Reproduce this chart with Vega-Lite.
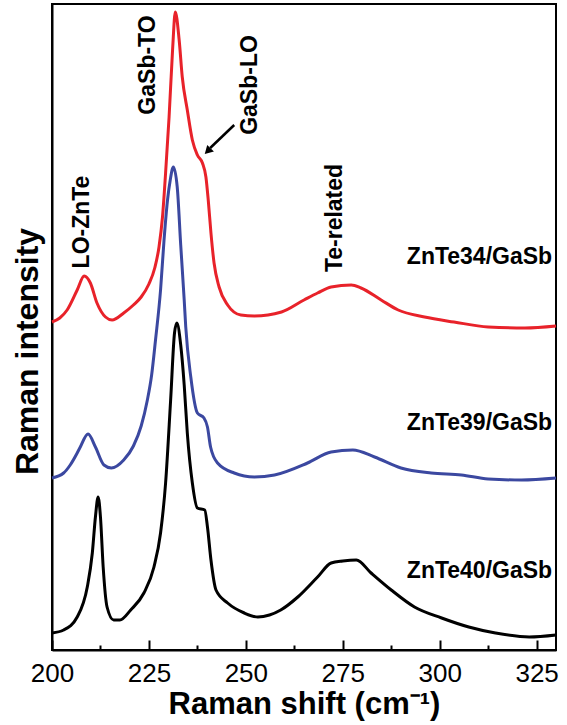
{
  "$schema": "https://vega.github.io/schema/vega-lite/v6.json",
  "width": 504,
  "height": 646,
  "autosize": {"type": "none"},
  "padding": {"left": 52, "top": 4, "right": 11, "bottom": 75},
  "config": {
    "view": {"stroke": "black", "strokeWidth": 2},
    "font": "Liberation Sans",
    "axis": {"grid": false, "domainColor": "black", "domainWidth": 2, "tickColor": "black", "tickWidth": 2, "labelColor": "black", "titleColor": "black"}
  },
  "datasets": {
    "spectra": [
      {"s":"ZnTe34","x":200.0,"y":328},{"s":"ZnTe34","x":202.0,"y":332},{"s":"ZnTe34","x":203.9,"y":340},{"s":"ZnTe34","x":206.5,"y":360},{"s":"ZnTe34","x":208.3,"y":374},{"s":"ZnTe34","x":209.9,"y":367},{"s":"ZnTe34","x":211.6,"y":347},{"s":"ZnTe34","x":213.8,"y":333},{"s":"ZnTe34","x":215.5,"y":330},{"s":"ZnTe34","x":218.5,"y":337},{"s":"ZnTe34","x":221.0,"y":345},{"s":"ZnTe34","x":223.0,"y":353},{"s":"ZnTe34","x":225.0,"y":366},{"s":"ZnTe34","x":226.5,"y":382},{"s":"ZnTe34","x":227.6,"y":403},{"s":"ZnTe34","x":228.5,"y":433},{"s":"ZnTe34","x":229.3,"y":477},{"s":"ZnTe34","x":230.2,"y":533},{"s":"ZnTe34","x":231.1,"y":600},{"s":"ZnTe34","x":231.8,"y":638},{"s":"ZnTe34","x":232.8,"y":610},{"s":"ZnTe34","x":233.6,"y":573},{"s":"ZnTe34","x":234.9,"y":540},{"s":"ZnTe34","x":236.2,"y":510},{"s":"ZnTe34","x":237.5,"y":495},{"s":"ZnTe34","x":238.8,"y":487},{"s":"ZnTe34","x":239.7,"y":473},{"s":"ZnTe34","x":240.3,"y":450},{"s":"ZnTe34","x":241.0,"y":417},{"s":"ZnTe34","x":241.8,"y":387},{"s":"ZnTe34","x":243.1,"y":363},{"s":"ZnTe34","x":245.3,"y":345},{"s":"ZnTe34","x":248.7,"y":335},{"s":"ZnTe34","x":252.2,"y":334},{"s":"ZnTe34","x":259.2,"y":338},{"s":"ZnTe34","x":265.0,"y":350},{"s":"ZnTe34","x":268.5,"y":357},{"s":"ZnTe34","x":272.0,"y":363},{"s":"ZnTe34","x":277.2,"y":365},{"s":"ZnTe34","x":279.7,"y":362},{"s":"ZnTe34","x":284.9,"y":350},{"s":"ZnTe34","x":289.3,"y":340},{"s":"ZnTe34","x":296.1,"y":333},{"s":"ZnTe34","x":303.7,"y":328},{"s":"ZnTe34","x":312.5,"y":323},{"s":"ZnTe34","x":322.0,"y":322},{"s":"ZnTe34","x":330.0,"y":324},
      {"s":"ZnTe39","x":200.0,"y":172},{"s":"ZnTe39","x":203.0,"y":177},{"s":"ZnTe39","x":204.7,"y":185},{"s":"ZnTe39","x":206.5,"y":197},{"s":"ZnTe39","x":207.3,"y":203},{"s":"ZnTe39","x":209.3,"y":216},{"s":"ZnTe39","x":211.2,"y":203},{"s":"ZnTe39","x":213.4,"y":185},{"s":"ZnTe39","x":215.3,"y":182},{"s":"ZnTe39","x":218.5,"y":190},{"s":"ZnTe39","x":221.0,"y":204},{"s":"ZnTe39","x":223.0,"y":224},{"s":"ZnTe39","x":224.6,"y":250},{"s":"ZnTe39","x":225.7,"y":275},{"s":"ZnTe39","x":226.7,"y":310},{"s":"ZnTe39","x":228.0,"y":360},{"s":"ZnTe39","x":228.9,"y":410},{"s":"ZnTe39","x":229.8,"y":450},{"s":"ZnTe39","x":230.5,"y":470},{"s":"ZnTe39","x":231.3,"y":483},{"s":"ZnTe39","x":232.3,"y":463},{"s":"ZnTe39","x":233.2,"y":405},{"s":"ZnTe39","x":234.1,"y":350},{"s":"ZnTe39","x":234.5,"y":323},{"s":"ZnTe39","x":235.8,"y":273},{"s":"ZnTe39","x":237.5,"y":237},{"s":"ZnTe39","x":239.2,"y":232},{"s":"ZnTe39","x":240.1,"y":223},{"s":"ZnTe39","x":240.9,"y":203},{"s":"ZnTe39","x":242.7,"y":187},{"s":"ZnTe39","x":247.0,"y":177},{"s":"ZnTe39","x":252.2,"y":173},{"s":"ZnTe39","x":257.4,"y":175},{"s":"ZnTe39","x":265.9,"y":187},{"s":"ZnTe39","x":272.0,"y":198},{"s":"ZnTe39","x":277.6,"y":200},{"s":"ZnTe39","x":283.2,"y":193},{"s":"ZnTe39","x":290.0,"y":182},{"s":"ZnTe39","x":297.8,"y":177},{"s":"ZnTe39","x":305.6,"y":175},{"s":"ZnTe39","x":312.5,"y":171},{"s":"ZnTe39","x":321.1,"y":170},{"s":"ZnTe39","x":330.0,"y":172},
      {"s":"ZnTe40","x":200.0,"y":17},{"s":"ZnTe40","x":203.0,"y":20},{"s":"ZnTe40","x":206.5,"y":33},{"s":"ZnTe40","x":209.1,"y":63},{"s":"ZnTe40","x":210.4,"y":97},{"s":"ZnTe40","x":211.2,"y":133},{"s":"ZnTe40","x":211.9,"y":153},{"s":"ZnTe40","x":212.5,"y":133},{"s":"ZnTe40","x":213.2,"y":83},{"s":"ZnTe40","x":214.2,"y":43},{"s":"ZnTe40","x":215.9,"y":30},{"s":"ZnTe40","x":217.5,"y":30},{"s":"ZnTe40","x":220.3,"y":40},{"s":"ZnTe40","x":223.7,"y":57},{"s":"ZnTe40","x":226.3,"y":83},{"s":"ZnTe40","x":228.0,"y":117},{"s":"ZnTe40","x":229.3,"y":167},{"s":"ZnTe40","x":230.6,"y":250},{"s":"ZnTe40","x":231.6,"y":317},{"s":"ZnTe40","x":232.2,"y":327},{"s":"ZnTe40","x":233.2,"y":305},{"s":"ZnTe40","x":234.1,"y":265},{"s":"ZnTe40","x":234.9,"y":217},{"s":"ZnTe40","x":236.2,"y":167},{"s":"ZnTe40","x":237.5,"y":142},{"s":"ZnTe40","x":239.4,"y":140},{"s":"ZnTe40","x":240.1,"y":123},{"s":"ZnTe40","x":241.0,"y":90},{"s":"ZnTe40","x":242.3,"y":60},{"s":"ZnTe40","x":245.3,"y":47},{"s":"ZnTe40","x":249.6,"y":37},{"s":"ZnTe40","x":253.1,"y":33},{"s":"ZnTe40","x":256.1,"y":35},{"s":"ZnTe40","x":259.0,"y":40},{"s":"ZnTe40","x":263.4,"y":53},{"s":"ZnTe40","x":268.5,"y":73},{"s":"ZnTe40","x":272.0,"y":87},{"s":"ZnTe40","x":275.0,"y":89},{"s":"ZnTe40","x":278.5,"y":90},{"s":"ZnTe40","x":282.3,"y":77},{"s":"ZnTe40","x":287.5,"y":60},{"s":"ZnTe40","x":293.5,"y":43},{"s":"ZnTe40","x":300.5,"y":32},{"s":"ZnTe40","x":307.5,"y":23},{"s":"ZnTe40","x":314.4,"y":17},{"s":"ZnTe40","x":323.1,"y":13},{"s":"ZnTe40","x":330.0,"y":15}
    ],
    "peaks": [
      {"label":"LO-ZnTe","x":207.8,"y":428},
      {"label":"GaSb-TO","x":224.8,"y":585},
      {"label":"GaSb-LO","x":251.1,"y":565},
      {"label":"Te-related","x":273.1,"y":432}
    ],
    "samples": [
      {"label":"ZnTe34/GaSb","x":329.0,"y":393},
      {"label":"ZnTe39/GaSb","x":329.0,"y":227},
      {"label":"ZnTe40/GaSb","x":329.0,"y":79}
    ],
    "arrow": [{"x":247.0,"y":525,"x2":240.8,"y2":502}],
    "arrowhead": [{"x":240.4,"y":499.8}]
  },
  "resolve": {"axis": {"x": "independent", "y": "independent"}},
  "layer": [
    {
      "data": {"name": "spectra"},
      "mark": {"type": "line", "strokeWidth": 3, "interpolate": "monotone"},
      "encoding": {
        "x": {"field": "x", "type": "quantitative", "scale": {"domain": [200, 330], "nice": false, "zero": false},
          "axis": {"values": [200, 225, 250, 275, 300, 325], "tickSize": -10, "labelPadding": 20, "labelFontSize": 26, "labelFlush": false,
            "title": "Raman shift (cm⁻¹)", "titleFontSize": 31, "titleFontWeight": "bold", "titleY": 63, "titleBaseline": "alphabetic"}},
        "y": {"field": "y", "type": "quantitative", "scale": {"domain": [0, 646], "nice": false},
          "axis": {"labels": false, "ticks": false, "title": "Raman intensity", "titleFontSize": 32, "titleFontWeight": "bold",
            "titleX": -15, "titleY": 347, "titleAnchor": null, "titleAlign": "center", "titleBaseline": "alphabetic", "titleAngle": -90}},
        "color": {"field": "s", "type": "nominal", "scale": {"domain": ["ZnTe34", "ZnTe39", "ZnTe40"], "range": ["#e8222a", "#3b48a0", "#000000"]}, "legend": null},
        "detail": {"field": "s"}
      }
    },
    {
      "data": {"name": "arrow"},
      "mark": {"type": "rule", "strokeWidth": 2.5, "color": "black"},
      "encoding": {
        "x": {"field": "x", "type": "quantitative", "axis": {"orient": "top", "offset": -646, "values": [212.5, 237.5, 262.5, 287.5, 312.5], "labels": false, "tickSize": 5, "title": null, "domain": false}},
        "y": {"field": "y", "type": "quantitative", "axis": null},
        "x2": {"field": "x2"},
        "y2": {"field": "y2"}
      }
    },
    {
      "data": {"name": "arrowhead"},
      "mark": {"type": "point", "shape": "triangle", "filled": true, "color": "black", "opacity": 1, "size": 90, "angle": 225},
      "encoding": {
        "x": {"field": "x", "type": "quantitative", "axis": null},
        "y": {"field": "y", "type": "quantitative", "axis": null}
      }
    },
    {
      "data": {"name": "peaks"},
      "mark": {"type": "text", "angle": 270, "align": "center", "baseline": "middle", "fontSize": 23, "fontWeight": "bold", "color": "black"},
      "encoding": {
        "x": {"field": "x", "type": "quantitative", "axis": null},
        "y": {"field": "y", "type": "quantitative", "axis": null},
        "text": {"field": "label"}
      }
    },
    {
      "data": {"name": "samples"},
      "mark": {"type": "text", "align": "right", "baseline": "middle", "fontSize": 23, "fontWeight": "bold", "color": "black"},
      "encoding": {
        "x": {"field": "x", "type": "quantitative", "axis": null},
        "y": {"field": "y", "type": "quantitative", "axis": null},
        "text": {"field": "label"}
      }
    }
  ]
}
